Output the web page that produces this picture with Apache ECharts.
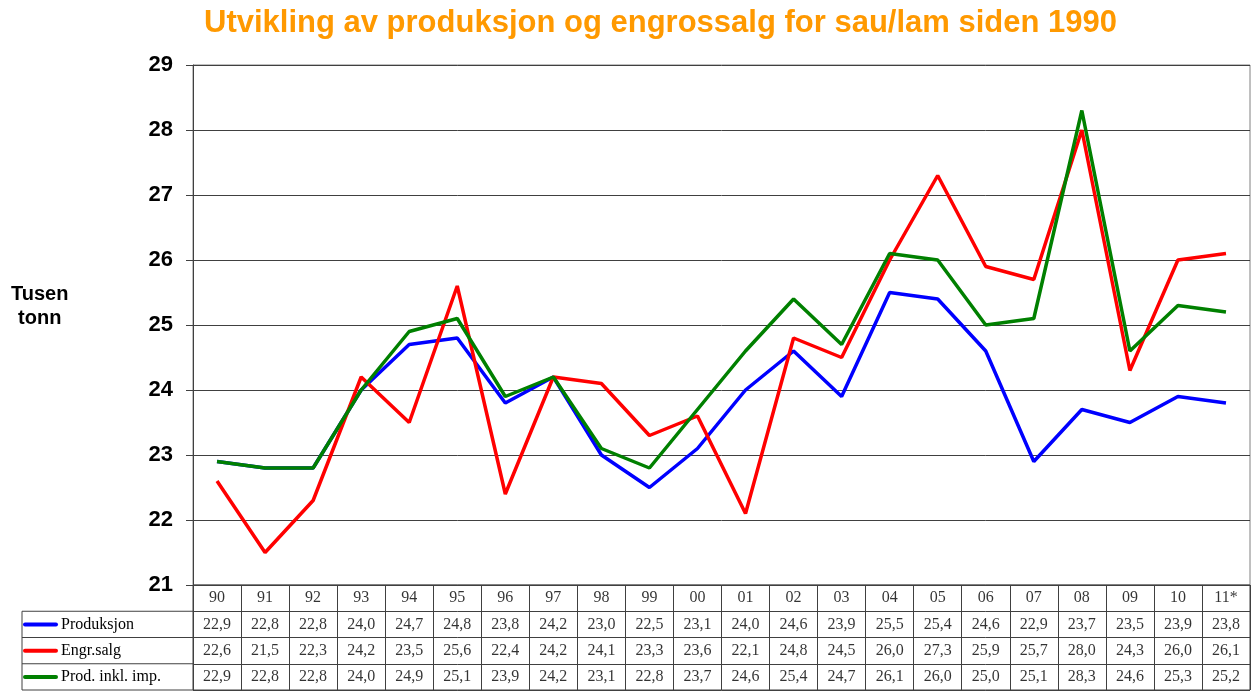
<!DOCTYPE html>
<html>
<head>
<meta charset="utf-8">
<script src="https://cdn.jsdelivr.net/npm/echarts@6/dist/echarts.min.js"></script>
<style>
  html, body { margin: 0; padding: 0; background: #fff; }
  #chart { width: 1253px; height: 691px; }
</style>
</head>
<body>
<div id="chart"></div>
<script>
// aarstall (11* = foreløpig)
var years = ['90', '91', '92', '93', '94', '95', '96', '97', '98', '99', '00',
  '01', '02', '03', '04', '05', '06', '07', '08', '09', '10', '11*'];
var produksjon = [22.9, 22.8, 22.8, 24.0, 24.7, 24.8, 23.8, 24.2, 23.0, 22.5, 23.1,
  24.0, 24.6, 23.9, 25.5, 25.4, 24.6, 22.9, 23.7, 23.5, 23.9, 23.8];
var engrSalg = [22.6, 21.5, 22.3, 24.2, 23.5, 25.6, 22.4, 24.2, 24.1, 23.3, 23.6,
  22.1, 24.8, 24.5, 26.0, 27.3, 25.9, 25.7, 28.0, 24.3, 26.0, 26.1];
var prodInklImp = [22.9, 22.8, 22.8, 24.0, 24.9, 25.1, 23.9, 24.2, 23.1, 22.8, 23.7,
  24.6, 25.4, 24.7, 26.1, 26.0, 25.0, 25.1, 28.3, 24.6, 25.3, 25.2];
var seriesNames = ['Produksjon', 'Engr.salg', 'Prod. inkl. imp.'];
var seriesColors = ['#0000FF', '#FF0000', '#008000'];

var gridColor = '#404040';
var serif = '"Liberation Serif", "Times New Roman", serif';
var sans = '"Liberation Sans", Arial, sans-serif';

function fmt(v) {
  return v.toFixed(1).replace('.', ',');
}

// tabell under grafen
var tableData = [];
var allSeries = [produksjon, engrSalg, prodInklImp];
years.forEach(function (y, i) {
  tableData.push([i, 0, y]);
  allSeries.forEach(function (arr, r) {
    tableData.push([i, r + 1, fmt(arr[i])]);
  });
});

var rowKeys = ['blue', 'red', 'green'];
var rich = { t: { fontFamily: serif, fontSize: 16, color: '#000', padding: [0, 0, 0, 3] } };
rowKeys.forEach(function (k, i) {
  rich[k] = { backgroundColor: seriesColors[i], width: 35, height: 4, borderRadius: 2, verticalAlign: 'middle' };
});

var chart = echarts.init(document.getElementById('chart'));

var tableTop = 585, tableH = 105, rowH = tableH / 4;
var leftLines = [];
for (var r = 1; r <= 4; r++) {
  leftLines.push({
    type: 'line',
    shape: { x1: 22, y1: tableTop + r * rowH, x2: 193, y2: tableTop + r * rowH },
    style: { stroke: gridColor, lineWidth: 1 }
  });
}
leftLines.push({
  type: 'line',
  shape: { x1: 22, y1: tableTop + rowH, x2: 22, y2: tableTop + tableH },
  style: { stroke: gridColor, lineWidth: 1 }
});

var option = {
  animation: false,
  title: {
    text: 'Utvikling av produksjon og engrossalg for sau/lam siden 1990',
    left: 199,
    top: 3,
    textStyle: { color: '#FF9900', fontSize: 31, fontWeight: 'bold', fontFamily: sans }
  },
  graphic: [{
    type: 'text',
    left: 11,
    top: 282,
    style: {
      text: 'Tusen\ntonn',
      fill: '#000',
      font: 'bold 20px ' + sans,
      textAlign: 'center',
      lineHeight: 24
    }
  }].concat(leftLines),
  grid: [
    { left: 193, right: 3, top: 65, height: 520, show: true, borderColor: '#808080', borderWidth: 1 },
    { left: 193, right: 3, top: tableTop, height: tableH, show: true, borderColor: gridColor, borderWidth: 1 }
  ],
  xAxis: [
    {
      type: 'category', gridIndex: 0, data: years, boundaryGap: true,
      axisLine: { show: false }, axisTick: { show: false }, axisLabel: { show: false },
      splitLine: { show: false }
    },
    {
      type: 'category', gridIndex: 1, data: years, boundaryGap: true,
      axisLine: { show: false }, axisTick: { show: false }, axisLabel: { show: false },
      splitLine: { show: true, interval: 0, lineStyle: { color: gridColor, width: 1 } }
    }
  ],
  yAxis: [
    {
      type: 'value', gridIndex: 0, min: 21, max: 29, interval: 1,
      axisLine: { show: true, lineStyle: { color: gridColor, width: 1 } },
      axisTick: { show: true, length: 7, lineStyle: { color: gridColor } },
      axisLabel: { color: '#000', fontSize: 22, fontWeight: 'bold', fontFamily: sans, margin: 20 },
      splitLine: { show: true, lineStyle: { color: gridColor, width: 1 } }
    },
    {
      type: 'category', gridIndex: 1, inverse: true,
      data: [''].concat(seriesNames),
      axisLine: { show: true, lineStyle: { color: gridColor } },
      axisTick: { show: false },
      splitLine: { show: true, interval: 0, lineStyle: { color: gridColor, width: 1 } },
      axisLabel: {
        interval: 0,
        align: 'left',
        margin: 170,
        formatter: function (v, i) {
          if (!v) return '';
          return '{' + rowKeys[i - 1] + '|}{t|' + v + '}';
        },
        rich: rich
      }
    }
  ],
  series: [
    {
      name: seriesNames[0], type: 'line', data: produksjon, xAxisIndex: 0, yAxisIndex: 0,
      symbol: 'none', lineStyle: { color: seriesColors[0], width: 3.5 }, z: 3
    },
    {
      name: seriesNames[1], type: 'line', data: engrSalg, xAxisIndex: 0, yAxisIndex: 0,
      symbol: 'none', lineStyle: { color: seriesColors[1], width: 3.5 }, z: 4
    },
    {
      name: seriesNames[2], type: 'line', data: prodInklImp, xAxisIndex: 0, yAxisIndex: 0,
      symbol: 'none', lineStyle: { color: seriesColors[2], width: 3.5 }, z: 5
    },
    {
      type: 'scatter', xAxisIndex: 1, yAxisIndex: 1, data: tableData,
      symbolSize: 1, itemStyle: { color: 'rgba(0,0,0,0)' },
      silent: true,
      label: {
        show: true, position: 'inside',
        color: '#000', fontSize: 16, fontFamily: serif,
        formatter: function (p) { return p.data[2]; }
      }
    }
  ]
};

chart.setOption(option);
</script>
</body>
</html>
